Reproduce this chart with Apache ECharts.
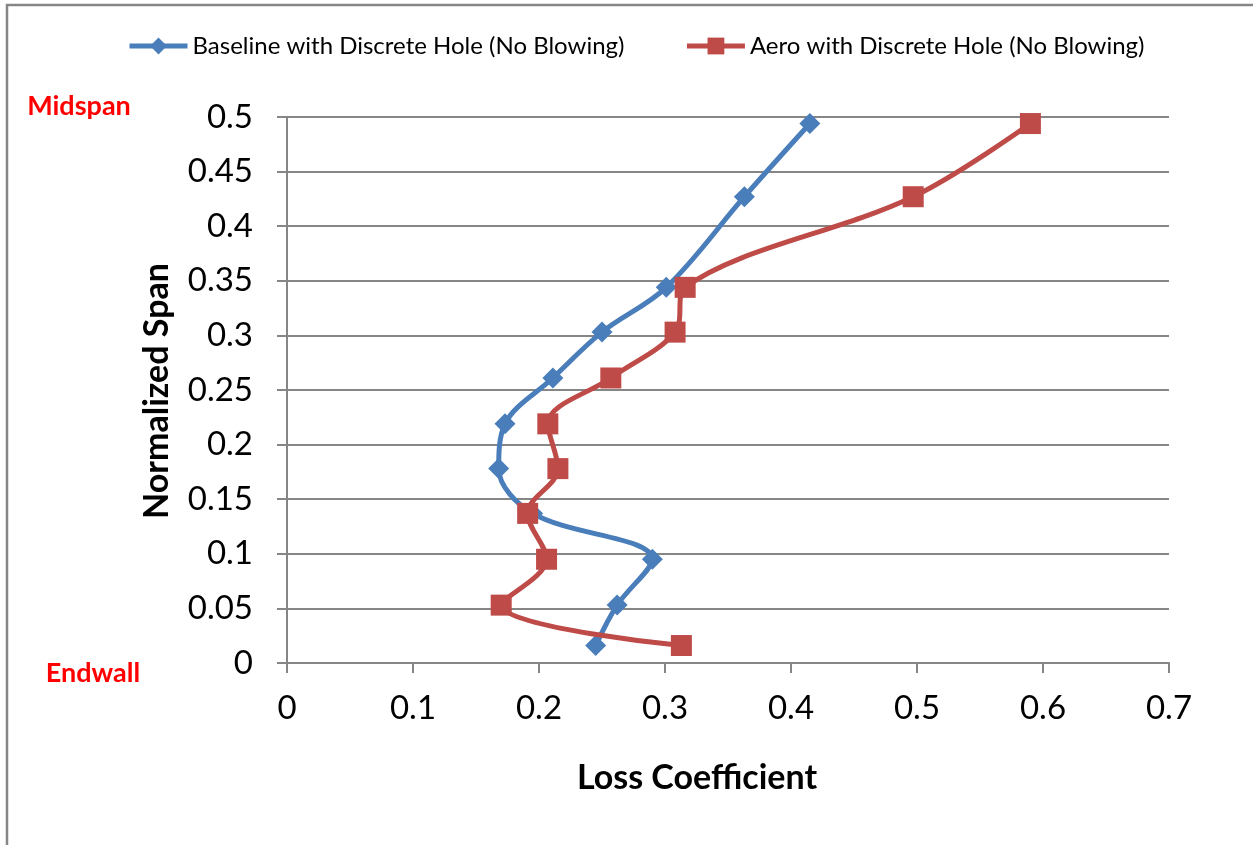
<!DOCTYPE html>
<html>
<head>
<meta charset="utf-8">
<script src="https://cdn.jsdelivr.net/npm/echarts@6/dist/echarts.min.js"></script>
<style>
  html, body { margin: 0; padding: 0; background: #fff; }
  #chart { width: 1253px; height: 845px; }
</style>
</head>
<body>
<div id="chart"></div>
<script>
// Normalized span positions of the traverse points (shared by both cases)
const span = [0.494, 0.427, 0.344, 0.303, 0.261, 0.219, 0.178, 0.137, 0.095, 0.053, 0.016];
// Loss coefficient, baseline endwall with discrete hole, no blowing
const baselineLoss = [0.415, 0.363, 0.301, 0.250, 0.211, 0.173, 0.168, 0.195, 0.290, 0.262, 0.245];
// Loss coefficient, aero endwall with discrete hole, no blowing
const aeroLoss = [0.590, 0.497, 0.316, 0.308, 0.257, 0.207, 0.215, 0.191, 0.206, 0.170, 0.313];

const seriesNames = ['Baseline with Discrete Hole (No Blowing)', 'Aero with Discrete Hole (No Blowing)'];
const xTicks = { min: 0, max: 0.7, interval: 0.1 };
const yTicks = { min: 0, max: 0.5, interval: 0.05 };

const FONT = 'Lato, "Open Sans", sans-serif';
const GRID_GRAY = '#868686';

function pairs(xs, ys) {
  return xs.map((x, i) => [x, ys[i]]);
}

const chart = echarts.init(document.getElementById('chart'), null, { renderer: 'canvas' });

chart.setOption({
  backgroundColor: '#ffffff',
  animation: false,
  textStyle: { fontFamily: FONT },
  grid: { left: 287, top: 117, right: 84, bottom: 182, containLabel: false },
  legend: {
    left: 122,
    top: 29,
    itemWidth: 58,
    itemHeight: 21,
    itemGap: 60,
    lineStyle: { width: 5 },
    textStyle: { fontFamily: FONT, fontSize: 24, color: '#000' },
    data: seriesNames
  },
  xAxis: {
    type: 'value',
    min: xTicks.min, max: xTicks.max, interval: xTicks.interval,
    axisLine: { show: true, onZero: false, lineStyle: { color: GRID_GRAY, width: 2 } },
    axisTick: { show: true, length: 10, lineStyle: { color: GRID_GRAY, width: 2 } },
    splitLine: { show: false },
    axisLabel: { margin: 29, fontSize: 33, color: '#000', fontFamily: FONT }
  },
  yAxis: {
    type: 'value',
    min: yTicks.min, max: yTicks.max, interval: yTicks.interval,
    axisLine: { show: true, onZero: false, lineStyle: { color: GRID_GRAY, width: 2 } },
    axisTick: { show: true, length: 10, lineStyle: { color: GRID_GRAY, width: 2 } },
    splitLine: { show: true, lineStyle: { color: GRID_GRAY, width: 2 } },
    axisLabel: {
      margin: 34, fontSize: 33, color: '#000', fontFamily: FONT,
      formatter: v => String(Math.round(v * 100) / 100)
    }
  },
  series: [
    {
      name: seriesNames[0],
      type: 'line',
      smooth: 0.35,
      data: pairs(baselineLoss, span),
      symbol: 'diamond',
      symbolSize: 21,
      color: '#4A7EBB',
      lineStyle: { color: '#4A7EBB', width: 5 },
      itemStyle: { color: '#4A7EBB' },
      z: 2
    },
    {
      name: seriesNames[1],
      type: 'line',
      smooth: 0.35,
      data: pairs(aeroLoss, span),
      symbol: 'rect',
      symbolSize: 21,
      color: '#BE4B48',
      lineStyle: { color: '#BE4B48', width: 5 },
      itemStyle: { color: '#BE4B48' },
      z: 3
    }
  ],
  graphic: [
    {
      type: 'rect',
      shape: { x: 7, y: 5, width: 1270, height: 870 },
      style: { fill: 'none', stroke: GRID_GRAY, lineWidth: 2.5 },
      silent: true
    },
    {
      type: 'text',
      x: 697, y: 778,
      style: {
        text: 'Loss Coefficient',
        fontFamily: FONT, fontSize: 34, fontWeight: 'bold', fill: '#000',
        textAlign: 'center', textVerticalAlign: 'middle'
      }
    },
    {
      type: 'text',
      x: 157, y: 391,
      rotation: Math.PI / 2,
      style: {
        text: 'Normalized Span',
        fontFamily: FONT, fontSize: 34, fontWeight: 'bold', fill: '#000',
        textAlign: 'center', textVerticalAlign: 'middle'
      }
    },
    {
      type: 'text',
      x: 79, y: 106,
      style: {
        text: 'Midspan',
        fontFamily: FONT, fontSize: 27, fontWeight: 'bold', fill: '#FF0000',
        textAlign: 'center', textVerticalAlign: 'middle'
      }
    },
    {
      type: 'text',
      x: 93, y: 673,
      style: {
        text: 'Endwall',
        fontFamily: FONT, fontSize: 27, fontWeight: 'bold', fill: '#FF0000',
        textAlign: 'center', textVerticalAlign: 'middle'
      }
    }
  ]
});
</script>
</body>
</html>
